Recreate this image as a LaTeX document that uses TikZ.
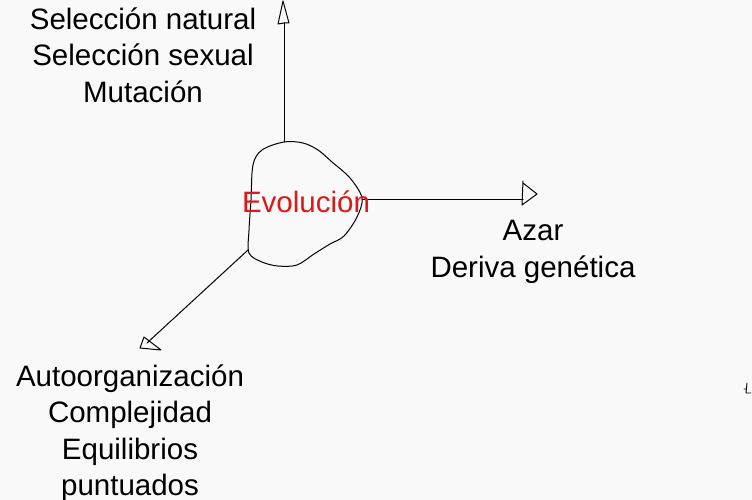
\documentclass[tikz,border=0pt]{standalone}
\usepackage{fontspec}
\setmainfont{Liberation Sans}
\definecolor{bg}{RGB}{249,249,249}
\definecolor{evred}{RGB}{222,24,24}
\begin{document}
\begin{tikzpicture}[x=1pt,y=-1pt,
  sketch/.style={draw=black,line width=1pt,line join=round,line cap=round},
  lbl/.style={align=center,font=\fontsize{29.5}{36.5}\selectfont,text=black,inner sep=0pt}]
\useasboundingbox (0,0) rectangle (752,500);
\fill[bg] (0,0) rectangle (752,500);
% blob
\draw[sketch] plot[smooth cycle,tension=0.55] coordinates {(284,142) (303,143) (318,150) (332,162) (350,178) (362,198) (357,217) (344,236) (330,244) (314,254) (297,265) (278,266) (262,262) (249,253) (249,230) (251,200) (253,165) (262,150)};
% anchors
\coordinate (top) at (284,142);
\coordinate (upbase) at (284,23);
\coordinate (right) at (362,199);
\coordinate (rbase) at (523,199);
\coordinate (left) at (248,250);
\coordinate (dlbase) at (147,343);
% up arrow
\draw[sketch] (top) -- (upbase);
\draw[sketch] (upbase) -- (278,24) -- (283,1) -- (289,23) -- cycle;
% right arrow
\draw[sketch] (right) -- (rbase);
\draw[sketch] (523,181) -- (522,205) -- (537,194) -- (523,183);
% down-left arrow
\draw[sketch] (left) -- (dlbase);
\draw[sketch] (144,337) -- (140,348) -- (161,350) -- cycle;
% stray mark
\draw[black,line width=0.9pt,line cap=round] (747,383) -- (746,393) -- (751,393) (744,389) -- (746,389);
% labels
\node[lbl] (sel) at (143,55) {Selección natural\\Selección sexual\\Mutación};
\node[lbl] (azar) at (533,252) {Azar\\Deriva genética};
\node[lbl] (auto) at (130,433) {Autoorganización\\Complejidad\\Equilibrios\\puntuados};
\node[lbl,text=evred] (evo) at (306,202) {Evolución};
\end{tikzpicture}
\end{document}
